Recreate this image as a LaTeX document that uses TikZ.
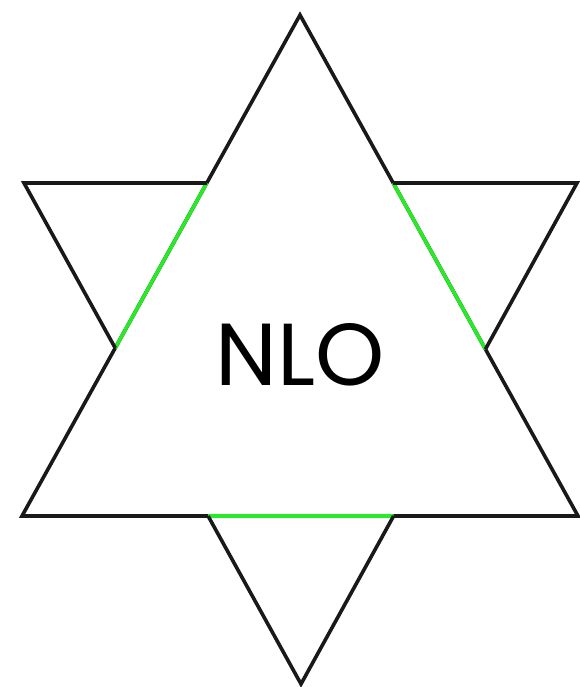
\documentclass[tikz,border=0pt]{standalone}
\usepackage{fontspec}
\newfontfamily\starfont{Poppins}
\usetikzlibrary{calc}
\definecolor{edgegreen}{RGB}{40,235,40}

\begin{document}
\begin{tikzpicture}[x=1pt, y=-1pt, line width=3.6pt, line join=miter,
    outline/.style={draw=black!90},
    inner/.style={draw=edgegreen}]
    \useasboundingbox (0,0) rectangle (580,687);
    % up and down triangles
    \coordinate (A) at (300,15);
    \coordinate (B) at (22,516);
    \coordinate (C) at (578,516);
    \coordinate (D) at (24,183);
    \coordinate (E) at (577,183);
    \coordinate (F) at (301,684);
    % crossings
    \coordinate (P1) at (intersection of A--B and D--E);
    \coordinate (P2) at (intersection of A--C and D--E);
    \coordinate (P3) at (intersection of A--B and D--F);
    \coordinate (P4) at (intersection of B--C and D--F);
    \coordinate (P5) at (intersection of A--C and E--F);
    \coordinate (P6) at (intersection of B--C and E--F);

    \draw[outline] (A) -- (B) -- (C) -- cycle;
    \draw[inner] (P1) -- (P3) (P2) -- (P5) (P4) -- (P6);
    \draw[outline] (P1) -- (D) -- (P3) (P2) -- (E) -- (P5) (P4) -- (F) -- (P6);

    \node[font=\starfont\fontsize{88}{88}\selectfont, inner sep=0pt] (nlo) at (300,355) {NLO};
\end{tikzpicture}
\end{document}
